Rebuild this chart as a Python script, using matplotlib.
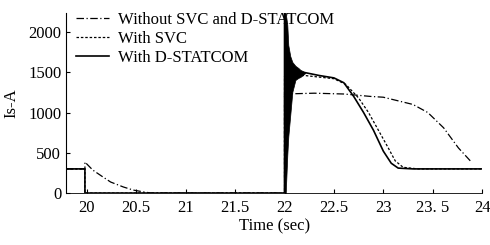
import matplotlib
matplotlib.use("Agg")
import matplotlib.pyplot as plt

plt.rcParams["font.family"] = ["Liberation Serif", "DejaVu Serif"]

# Without SVC and D-STATCOM
t_none = [19.79, 19.98, 19.98, 20.06, 20.15, 20.24, 20.37, 20.47, 20.57, 20.65,
          22.0, 22.0, 22.3, 22.6, 22.87, 23.0, 23.3, 23.45, 23.61, 23.76, 23.88]
i_none = [300, 300, 385, 285, 210, 137, 75, 37, 15, 0,
          0, 1230, 1240, 1230, 1200, 1190, 1100, 1000, 810, 560, 400]

# With SVC
t_svc = [19.79, 19.98, 19.98, 22.0, 22.0, 22.2, 22.5, 22.62, 22.75, 22.85,
         22.95, 23.05, 23.12, 23.2, 23.35, 24.0]
i_svc = [300, 300, 0, 0, 1450, 1460, 1420, 1350, 1180, 1000,
         780, 560, 400, 320, 300, 300]

# With D-STATCOM
t_dst = [19.79, 19.98, 19.98, 22.0, 22.0, 22.04, 22.12, 22.21, 22.35, 22.5,
         22.6, 22.7, 22.8, 22.9, 23.0, 23.08, 23.15, 23.3, 24.0]
i_dst = [300, 300, 0, 0, 2236, 1300, 1500, 1495, 1460, 1430,
         1370, 1200, 1000, 780, 520, 370, 310, 300, 300]

# oscillation envelope of the D-STATCOM current just after 22 s
t_env = [22.0, 22.012, 22.028, 22.038, 22.058, 22.079, 22.11, 22.14, 22.16, 22.21]
env_hi = [2236, 2236, 2087, 1838, 1700, 1627, 1580, 1553, 1530, 1500]
env_lo = [0, 0, 472, 700, 969, 1255, 1404, 1430, 1441, 1490]

xticks = [20, 20.5, 21, 21.5, 22, 22.5, 23, 23.5, 24]
xlabels = ["20", "20.5", "21", "21.5", "22", "22.5", "23", "23. 5", "24"]
yticks = [0, 500, 1000, 1500, 2000]

fig = plt.figure(figsize=(4.9, 2.45), dpi=100)
ax = fig.add_axes([0.135, 0.212, 0.849, 0.735])

ax.plot(t_none, i_none, color="black", lw=0.9, linestyle=(0, (6, 2, 1, 2)),
        label="Without SVC and D-STATCOM")
ax.plot(t_svc, i_svc, color="black", lw=0.9, linestyle=(0, (2, 1.5)),
        label="With SVC")
ax.plot(t_dst, i_dst, color="black", lw=1.2, label="With D-STATCOM")
ax.fill_between(t_env, env_lo, env_hi, color="black", lw=0.5)

ax.set_xlim(19.79, 24.0)
ax.set_ylim(0, 2236)
ax.set_xticks(xticks)
ax.set_xticklabels(xlabels)
ax.set_yticks(yticks)
ax.tick_params(direction="in", length=3, labelsize=12, width=0.8)
ax.tick_params(axis="x", pad=5)
ax.spines["top"].set_visible(False)
ax.spines["right"].set_visible(False)
ax.spines["left"].set_linewidth(0.8)
ax.spines["bottom"].set_linewidth(0.6)

ax.set_xlabel("Time (sec)", fontsize=12, labelpad=2)
ax.set_ylabel("Is-A", fontsize=12, labelpad=6)

ax.legend(loc="upper left", bbox_to_anchor=(0.0, 1.06), frameon=False,
          fontsize=12, handlelength=2.0, labelspacing=0.18, borderaxespad=0.2,
          handletextpad=0.5)

fig.savefig("out.png", dpi=100)
